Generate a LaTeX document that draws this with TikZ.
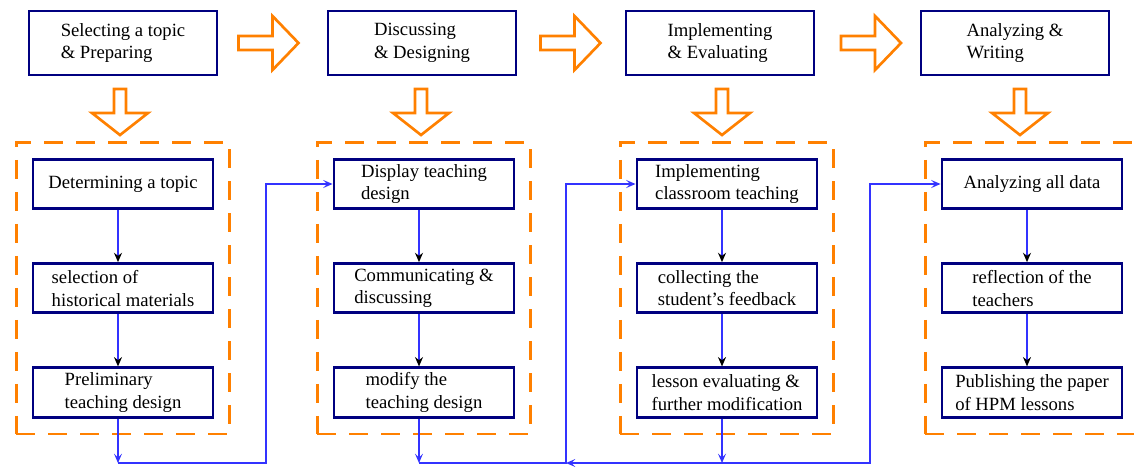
\documentclass[tikz,border=0pt]{standalone}
\usepackage{fontspec}
\setmainfont{Liberation Serif}
\usepackage{tikz}
\usetikzlibrary{arrows.meta, positioning, fit}

\definecolor{hpmnavy}{RGB}{0,0,128}
\definecolor{hpmorange}{RGB}{255,128,0}
\definecolor{hpmblue}{RGB}{51,51,255}

\tikzset{
  fwdarrow/.pic  = {\draw[bigarr] (-30,-7) -- (4,-7) -- (4,-27) -- (30,0)
                    -- (4,27) -- (4,7) -- (-30,7) -- cycle;},
  downarrow/.pic = {\draw[bigarr] (-6,-23) -- (-6,1) -- (-28,1) -- (0,23)
                    -- (28,1) -- (6,1) -- (6,-23) -- cycle;}
}

\begin{document}
\begin{tikzpicture}[
  x=0.75pt, y=-0.75pt,
  node distance = 39pt,
  stage/.style   = {rectangle, draw=hpmnavy, line width=2pt, fill=white,
                    minimum width=141pt, minimum height=48pt,
                    font=\fontsize{14}{17}\selectfont, align=left},
  stepbox/.style = {rectangle, draw=hpmnavy, line width=2.2pt, fill=white,
                    minimum width=135pt, minimum height=37pt,
                    font=\fontsize{14}{17}\selectfont, align=left},
  grp/.style     = {rectangle, draw=hpmorange, line width=2.2pt,
                    dash pattern=on 14pt off 10pt, inner sep=11.5pt},
  bigarr/.style  = {draw=hpmorange, line width=2pt, line join=miter},
  flow/.style    = {draw=hpmblue, line width=1pt,
                    transform canvas={xshift=-3.75pt},
                    -{Stealth[length=7pt, width=6pt, color=black]}},
  link/.style    = {draw=hpmblue, line width=1pt,
                    -{Stealth[length=7pt, width=6pt, inset=3pt]}}
]
\useasboundingbox (0,0) rectangle (1134,468);

% ── Stages (top row) ─────────────────────────────────────────────────────────
\node[stage] (select)    at (123,43)  {Selecting a topic\\\& Preparing};
\node[stage] (discuss)   at (422,43)  {Discussing\\\& Designing};
\node[stage] (implement) at (720,43)  {Implementing\\\& Evaluating};
\node[stage] (analyze)   at (1015,43) {Analyzing \&\\Writing};

% ── Hollow arrows between and below the stages ───────────────────────────────
\pic at (268.5,43) {fwdarrow};
\pic at (570.5,43) {fwdarrow};
\pic at (871,43)   {fwdarrow};
\pic at (120,112)  {downarrow};
\pic at (421,112)  {downarrow};
\pic at (722,112)  {downarrow};
\pic at (1020,112) {downarrow};

% ── Column 1 ─────────────────────────────────────────────────────────────────
\node[stepbox] (topic) at (123,184) {Determining a topic};
\node[stepbox, below=of topic] (hist)   {selection of\\historical materials};
\node[stepbox, below=of hist]  (prelim) {Preliminary\\teaching design};

% ── Column 2 ─────────────────────────────────────────────────────────────────
\node[stepbox] (display) at (424,184) {Display teaching\\design};
\node[stepbox, below=of display] (comm)   {Communicating \&\\discussing};
\node[stepbox, below=of comm]    (modify) {modify the\\teaching design};

% ── Column 3 ─────────────────────────────────────────────────────────────────
\node[stepbox] (classroom) at (727,184) {Implementing\\classroom teaching};
\node[stepbox, below=of classroom] (feedback) {collecting the\\student's feedback};
\node[stepbox, below=of feedback]  (lesson)   {lesson evaluating \&\\further modification};

% ── Column 4 ─────────────────────────────────────────────────────────────────
\node[stepbox] (data) at (1032,184) {Analyzing all data};
\node[stepbox, below=of data]    (reflect) {reflection of the\\teachers};
\node[stepbox, below=of reflect] (publish) {Publishing the paper\\of HPM lessons};

% ── Dashed groups ────────────────────────────────────────────────────────────
\node[grp, fit=(topic)(prelim)]     (grpA) {};
\node[grp, fit=(display)(modify)]   (grpB) {};
\node[grp, fit=(classroom)(lesson)] (grpC) {};
\node[grp, fit=(data)(publish)]     (grpD) {};

% ── Steps inside the groups ──────────────────────────────────────────────────
\draw[flow] (topic)     -- (hist);
\draw[flow] (hist)      -- (prelim);
\draw[flow] (display)   -- (comm);
\draw[flow] (comm)      -- (modify);
\draw[flow] (classroom) -- (feedback);
\draw[flow] (feedback)  -- (lesson);
\draw[flow] (data)      -- (reflect);
\draw[flow] (reflect)   -- (publish);

% ── Links between the groups ─────────────────────────────────────────────────
\coordinate (base) at (0,463);
\coordinate (j1) at ([xshift=-3.75pt]prelim.south |- base);
\coordinate (j2) at ([xshift=-3.75pt]modify.south |- base);
\coordinate (j3) at ([xshift=-3.75pt]lesson.south |- base);
\coordinate (r1) at (266,463);
\coordinate (r2) at (566,463);
\coordinate (r3) at (870,463);

\draw[link] (prelim.south -| j1) -- (j1);
\draw[link] (j1) -- (r1) |- (display.west);
\draw[link] (modify.south -| j2) -- (j2);
\draw[link] (j2) -- (r2) |- (classroom.west);
\draw[link] (lesson.south -| j3) -- (j3);
\draw[link] (j3) -- (r2);
\draw[link] (j3) -- (r3) |- (data.west);
\end{tikzpicture}
\end{document}
